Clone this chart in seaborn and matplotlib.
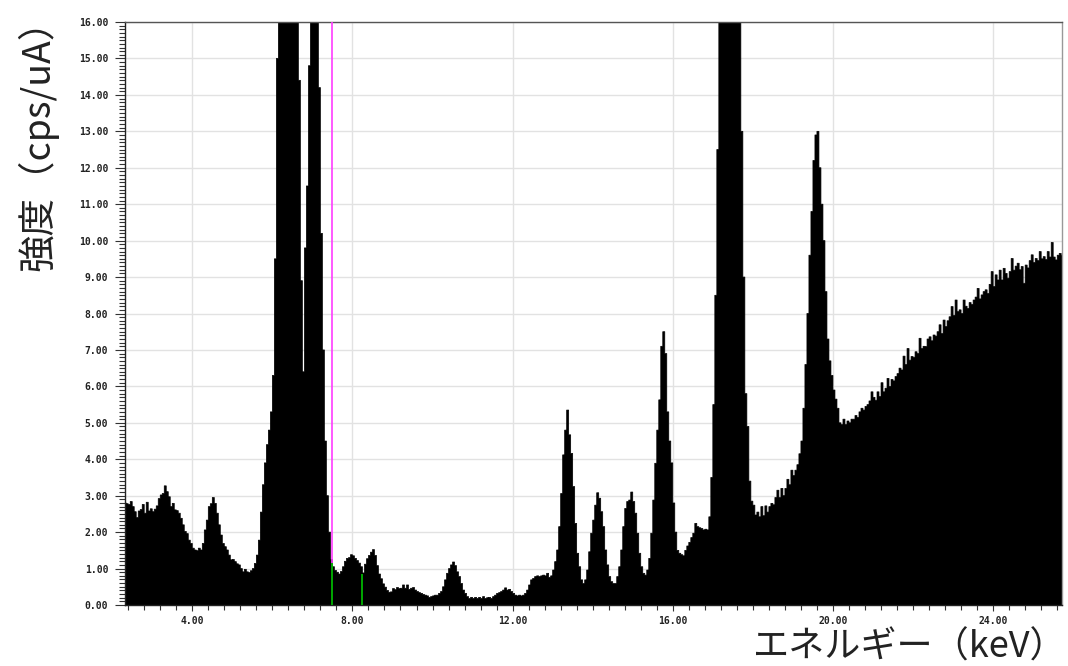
import numpy as np
import pandas as pd
import matplotlib
matplotlib.use("Agg")
import matplotlib.pyplot as plt
from matplotlib.ticker import MultipleLocator, FormatStrFormatter
import seaborn as sns

# ---------------- data (cps/uA per 0.05 keV channel; label = channel start keV) ----------------
ch_width = 0.05
seg_start = [2.30, 3.00, 4.00, 5.00, 6.00, 7.00, 8.00, 9.00, 10.00, 11.00, 12.00, 13.00,
             14.00, 15.00, 16.00, 17.00, 18.00, 19.00, 20.00, 21.00, 22.00, 23.00, 24.00, 25.00]
seg_2 = [2.80, 2.78, 2.76, 2.84, 2.70, 2.56, 2.40, 2.58, 2.62, 2.76, 2.52, 2.82, 2.58, 2.64]
seg_3 = [2.56, 2.63, 2.72, 2.92, 3.02, 3.06, 3.27, 3.11, 2.97, 2.70, 2.79, 2.61, 2.59, 2.52, 2.38, 2.20, 2.02, 1.96, 1.78, 1.69]
seg_4 = [1.56, 1.51, 1.49, 1.56, 1.51, 1.69, 2.06, 2.33, 2.70, 2.78, 2.95, 2.79, 2.52, 2.20, 1.92, 1.69, 1.60, 1.51, 1.37, 1.24]
seg_5 = [1.25, 1.19, 1.13, 1.10, 1.00, 0.91, 0.98, 0.91, 0.89, 0.94, 1.00, 1.14, 1.37, 1.78, 2.55, 3.30, 3.90, 4.40, 4.80, 5.30]
seg_6 = [6.30, 9.50, 15.0, 17.5, 21.0, 25.0, 28.0, 30.0, 30.5, 29.0, 26.0, 22.0, 18.5, 14.4, 8.90, 6.40, 9.80, 11.5, 14.8, 17.0]
seg_7 = [19.0, 20.0, 17.5, 14.2, 10.2, 7.00, 4.50, 3.00, 2.00, 1.25, 1.05, 0.95, 0.90, 0.85, 0.92, 1.05, 1.20, 1.28, 1.30, 1.38]
seg_8 = [1.35, 1.28, 1.22, 1.15, 1.05, 0.88, 1.12, 1.27, 1.36, 1.45, 1.52, 1.36, 1.08, 0.85, 0.72, 0.58, 0.49, 0.40, 0.35, 0.36]
seg_9 = [0.45, 0.42, 0.48, 0.45, 0.46, 0.55, 0.46, 0.55, 0.43, 0.46, 0.48, 0.41, 0.37, 0.34, 0.32, 0.29, 0.27, 0.25, 0.21, 0.23]
seg_10 = [0.25, 0.27, 0.27, 0.32, 0.37, 0.50, 0.69, 0.87, 1.00, 1.10, 1.18, 1.08, 0.91, 0.78, 0.59, 0.41, 0.32, 0.23, 0.18, 0.21]
seg_11 = [0.18, 0.21, 0.18, 0.21, 0.18, 0.23, 0.18, 0.20, 0.21, 0.18, 0.23, 0.27, 0.32, 0.34, 0.37, 0.41, 0.47, 0.41, 0.43, 0.37]
seg_12 = [0.32, 0.27, 0.25, 0.27, 0.25, 0.27, 0.32, 0.41, 0.55, 0.69, 0.73, 0.78, 0.80, 0.78, 0.80, 0.82, 0.80, 0.87, 0.76, 0.80]
seg_13 = [0.96, 1.19, 1.51, 2.15, 3.06, 4.12, 4.80, 5.35, 4.67, 4.16, 3.25, 2.24, 1.42, 1.05, 0.69, 0.59, 0.69, 0.96, 1.46, 1.97]
seg_14 = [2.33, 2.74, 3.08, 2.93, 2.56, 2.15, 1.51, 1.10, 0.78, 0.64, 0.59, 0.59, 0.78, 1.05, 1.51, 2.15, 2.65, 2.84, 2.88, 3.10]
seg_15 = [2.84, 2.52, 1.97, 1.42, 1.05, 0.87, 0.82, 0.96, 1.28, 1.97, 2.88, 3.89, 4.80, 5.63, 7.10, 7.50, 6.90, 5.30, 4.50, 3.90]
seg_16 = [2.80, 2.00, 1.50, 1.42, 1.38, 1.35, 1.50, 1.62, 1.72, 1.85, 1.97, 2.24, 2.15, 2.12, 2.10, 2.06, 2.08, 2.06, 2.42, 3.50]
seg_17 = [5.50, 8.50, 12.5, 16.5, 22.0, 28.0, 33.0, 36.0, 37.0, 35.0, 31.0, 26.0, 21.0, 17.0, 13.0, 9.00, 5.80, 4.90, 3.40, 2.85]
seg_18 = [2.74, 2.47, 2.55, 2.42, 2.70, 2.45, 2.72, 2.55, 2.70, 2.79, 2.75, 2.95, 3.15, 2.95, 3.20, 3.00, 3.20, 3.45, 3.30, 3.70]
seg_19 = [3.55, 3.70, 3.85, 4.15, 4.50, 5.40, 6.60, 8.00, 9.60, 10.8, 12.2, 12.9, 13.0, 12.0, 11.0, 10.0, 8.60, 7.30, 6.70, 6.30]
seg_20 = [5.90, 5.65, 5.40, 5.00, 4.95, 5.10, 4.95, 5.05, 5.00, 5.10, 5.10, 5.20, 5.15, 5.30, 5.40, 5.35, 5.45, 5.50, 5.60, 5.85]
seg_21 = [5.70, 5.62, 5.85, 5.72, 6.10, 5.85, 5.95, 6.22, 6.00, 6.19, 6.15, 6.27, 6.35, 6.50, 6.45, 6.83, 6.60, 7.04, 6.72, 6.82]
seg_22 = [6.80, 6.95, 6.90, 7.32, 7.04, 7.10, 7.09, 7.30, 7.36, 7.25, 7.41, 7.38, 7.50, 7.69, 7.45, 7.82, 7.64, 7.80, 7.91, 8.19]
seg_23 = [7.95, 8.37, 8.05, 8.10, 8.00, 8.37, 8.20, 8.14, 8.30, 8.25, 8.37, 8.45, 8.69, 8.40, 8.51, 8.60, 8.65, 8.55, 8.80, 9.15]
seg_24 = [8.74, 9.06, 8.92, 9.19, 8.92, 9.24, 9.10, 8.97, 9.15, 9.51, 9.19, 9.30, 9.38, 9.20, 9.29, 8.83, 9.33, 9.25, 9.45, 9.61]
seg_25 = [9.40, 9.51, 9.45, 9.70, 9.50, 9.56, 9.48, 9.70, 9.55, 9.95, 9.55, 9.47, 9.60, 9.65, 9.60]
segments = [seg_2, seg_3, seg_4, seg_5, seg_6, seg_7, seg_8, seg_9, seg_10, seg_11, seg_12, seg_13,
            seg_14, seg_15, seg_16, seg_17, seg_18, seg_19, seg_20, seg_21, seg_22, seg_23, seg_24, seg_25]

cursor_keV = [7.485, 8.25]          # green channel markers
cursor_top = [1.15, 0.85]
magenta_keV = 7.485

x_ticks = [4, 8, 12, 16, 20, 24]
y_ticks = list(range(0, 17))
x_label = "エネルギー（keV）"
y_label = "強度（cps/uA）"

# ---------------- build table ----------------
ch_start, cps = [], []
for s, vals in zip(seg_start, segments):
    for i, v in enumerate(vals):
        ch_start.append(round(s + ch_width * i, 3))
        cps.append(v)
ch_start = np.array(ch_start)
df = pd.DataFrame({"energy": ch_start + ch_width / 2, "cps": cps})
n_bins = len(ch_start)
bin_range = (float(ch_start[0]), float(ch_start[-1] + ch_width))

# ---------------- plot ----------------
sns.set_theme(style="white")
plt.rcParams["font.family"] = ["Noto Sans CJK JP", "DejaVu Sans"]

fig = plt.figure(figsize=(10.68, 6.66), dpi=100)
ax = fig.add_axes([125 / 1068, 1 - 605 / 666, (1062 - 125) / 1068, (605 - 22) / 666])

sns.histplot(data=df, x="energy", weights="cps", bins=n_bins, binrange=bin_range,
             element="step", fill=True, color="black", alpha=1, linewidth=0.5,
             edgecolor="black", ax=ax)

ax.vlines(magenta_keV, cursor_top[0], 16, colors="#ff3cff", linewidth=1.2, zorder=5)
ax.vlines(cursor_keV, 0, cursor_top, colors="#00c400", linewidth=1.2, zorder=5)

ax.set_xlim(2.32, 25.72)
ax.set_ylim(0, 16)
ax.set_xticks(x_ticks)
ax.set_yticks(y_ticks)
ax.xaxis.set_minor_locator(MultipleLocator(0.4))
ax.yaxis.set_minor_locator(MultipleLocator(0.1))
ax.xaxis.set_major_formatter(FormatStrFormatter("%.2f"))
ax.yaxis.set_major_formatter(FormatStrFormatter("%.2f"))

ax.grid(True, which="major", color="#e2e2e2", linewidth=1.0)
ax.set_axisbelow(True)

ax.tick_params(axis="both", which="both", direction="out", bottom=True, left=True,
               top=False, right=False, color="#333333", width=0.8)
ax.tick_params(axis="y", which="major", length=7, pad=5)
ax.tick_params(axis="y", which="minor", length=4)
ax.tick_params(axis="x", which="major", length=4, pad=4)
ax.tick_params(axis="x", which="minor", length=3.5)
for lbl in ax.get_xticklabels() + ax.get_yticklabels():
    lbl.set_fontfamily("DejaVu Sans Mono")
    lbl.set_fontweight("bold")
    lbl.set_fontsize(7)
    lbl.set_color("#222222")

for side, col in [("top", "#555555"), ("left", "#222222"), ("bottom", "#222222"), ("right", "#999999")]:
    ax.spines[side].set_visible(True)
    ax.spines[side].set_color(col)
    ax.spines[side].set_linewidth(1.0)

ax.set_xlabel("")
ax.set_ylabel("")
fig.text(38 / 1068, 0.999, y_label, rotation=90, ha="center", va="top",
         fontsize=27, color="#222222")
fig.text(0.999, 0.001, x_label, ha="right", va="bottom",
         fontsize=26, color="#222222")

fig.savefig("out.png", dpi=100)
